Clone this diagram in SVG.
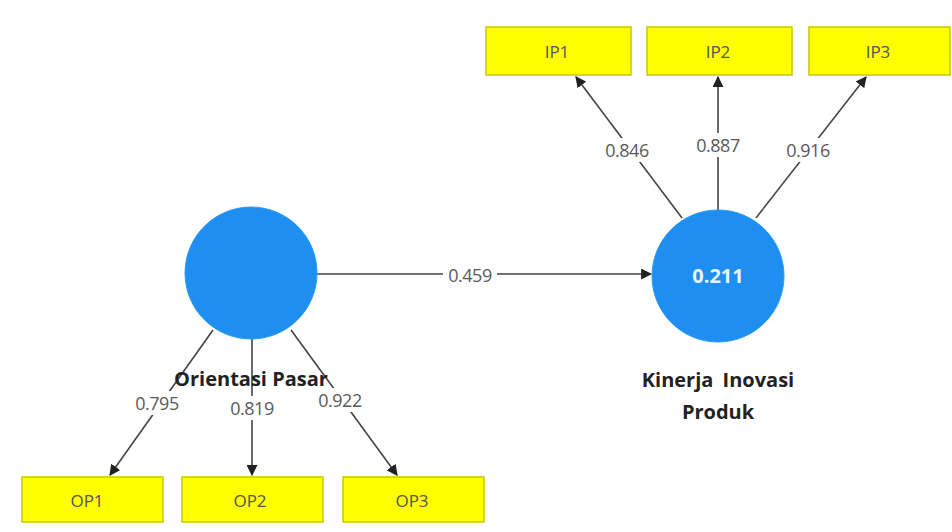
<svg xmlns="http://www.w3.org/2000/svg" width="952" height="532" viewBox="0 0 952 532">
  <defs>
    <marker id="arr" viewBox="0 0 10 10" refX="9" refY="5" markerWidth="11" markerHeight="11" markerUnits="userSpaceOnUse" orient="auto">
      <path d="M0,0 L10,5 L0,10 z" fill="#222"/>
    </marker>
    <style>
      .ind rect { fill: #ffff00; stroke: #c8c800; stroke-width: 1.5; }
      .ind text { font-family: "Open Sans", "Liberation Sans", sans-serif; font-size: 17px; fill: #555; text-anchor: middle; }
      .lv circle { fill: #1e8ff0; stroke: #2a9cf5; stroke-width: 1; }
      .lvname { font-family: "Open Sans", "Liberation Sans", sans-serif; font-size: 20px; font-weight: 700; fill: #222; text-anchor: middle; }
      .r2 { font-family: "Open Sans", "Liberation Sans", sans-serif; font-size: 20px; font-weight: 700; fill: #eaf4ff; text-anchor: middle; }
      .edge { stroke: #444; stroke-width: 1.6; fill: none; marker-end: url(#arr); }
      .wt { font-family: "Open Sans", "Liberation Sans", sans-serif; font-size: 18px; fill: #5a5a5a; text-anchor: middle; letter-spacing: -0.5px; }
      .bg { fill: #fff; }
    </style>
  </defs>
  <rect width="952" height="532" fill="#fff"/>

  <!-- paths with their outer weights -->
  <g id="connectors">
    <line class="edge" x1="317" y1="274" x2="651" y2="274"/>
    <rect class="bg" x="443" y="263" width="54" height="22"/>
    <text class="wt" x="470" y="282">0.459</text>

    <line class="edge" x1="682" y1="218" x2="576" y2="77"/>
    <rect class="bg" x="600" y="138" width="54" height="24"/>
    <text class="wt" x="627" y="157">0.846</text>

    <line class="edge" x1="718" y1="210" x2="718" y2="77"/>
    <rect class="bg" x="691" y="133" width="54" height="24"/>
    <text class="wt" x="718" y="152">0.887</text>

    <line class="edge" x1="756" y1="218" x2="866" y2="77"/>
    <rect class="bg" x="781" y="138" width="54" height="24"/>
    <text class="wt" x="808" y="157">0.916</text>

    <line class="edge" x1="213" y1="330" x2="110" y2="475"/>
    <rect class="bg" x="130" y="391" width="54" height="24"/>
    <text class="wt" x="157" y="410">0.795</text>

    <line class="edge" x1="252" y1="339" x2="252" y2="475"/>
    <rect class="bg" x="225" y="396" width="54" height="24"/>
    <text class="wt" x="252" y="415">0.819</text>

    <line class="edge" x1="291" y1="330" x2="397" y2="475"/>
    <rect class="bg" x="313" y="388" width="54" height="24"/>
    <text class="wt" x="340" y="407">0.922</text>
  </g>

  <!-- latent variables -->
  <g id="orientasi-pasar" class="lv">
    <circle cx="251" cy="273" r="66"/>
    <text class="lvname" x="251" y="386">Orientasi Pasar</text>
  </g>
  <g id="kinerja-inovasi-produk" class="lv">
    <circle cx="718" cy="276" r="66"/>
    <text class="r2" x="718" y="283">0.211</text>
    <text class="lvname" x="718" y="387" word-spacing="4">Kinerja Inovasi</text>
    <text class="lvname" x="718" y="419">Produk</text>
  </g>

  <!-- indicators -->
  <g id="ip1" class="ind"><rect x="486" y="27" width="145" height="48"/><text x="557" y="58">IP1</text></g>
  <g id="ip2" class="ind"><rect x="647" y="27" width="145" height="48"/><text x="718" y="58">IP2</text></g>
  <g id="ip3" class="ind"><rect x="809" y="27" width="141" height="48"/><text x="878" y="58">IP3</text></g>

  <g id="op1" class="ind"><rect x="22" y="477" width="141" height="45"/><text x="87" y="507">OP1</text></g>
  <g id="op2" class="ind"><rect x="182" y="477" width="141" height="45"/><text x="250" y="507">OP2</text></g>
  <g id="op3" class="ind"><rect x="343" y="477" width="141" height="45"/><text x="412" y="507">OP3</text></g>
</svg>
